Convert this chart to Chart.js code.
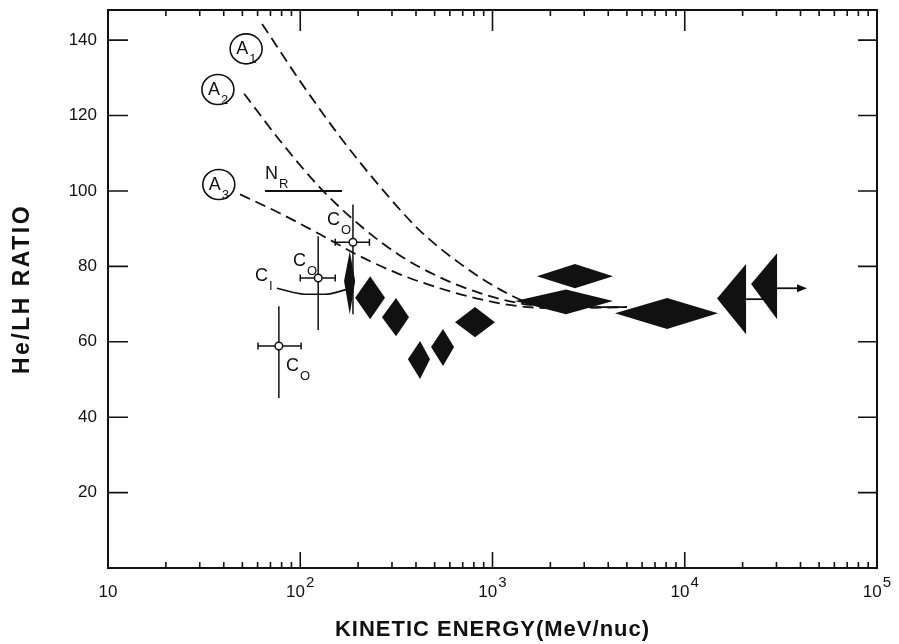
<!DOCTYPE html>
<html>
<head>
<meta charset="utf-8">
<script src="https://cdn.jsdelivr.net/npm/chart.js@4.4.1/dist/chart.umd.min.js"></script>
<style>
  html, body { margin: 0; padding: 0; background: #fff; }
</style>
</head>
<body>
<canvas id="heChart" width="899" height="644"></canvas>
<script>
// axes
const xMin = 10, xMax = 1e5;
const yMin = 0, yMax = 148;
const yTickValues = [20, 40, 60, 80, 100, 120, 140];
const xDecades = [10, 100, 1000, 10000, 100000];
const xExponents = ['', '2', '3', '4', '5'];

// model curves A1, A2, A3 (dashed)
const a1Energy = [63.3, 99.6, 160.8, 259.5, 418.9, 676, 1091, 1568, 2255, 5000];
const a1Ratio  = [144.3, 129.2, 114.4, 101.2, 89.5, 80.8, 73.9, 70.2, 69.2, 69.2];
const a2Energy = [51.1, 78.3, 126.6, 204.3, 329.8, 532, 860, 1388, 2255, 5000];
const a2Ratio  = [125.8, 113.4, 100.9, 90.9, 82.9, 77.1, 72.9, 70.2, 69.2, 69.2];
const a3Energy = [48.6, 78.3, 126.6, 204.3, 329.8, 532, 860, 1388, 2255, 5000];
const a3Ratio  = [99.1, 94.1, 88.5, 82.7, 77.9, 74.2, 71.3, 69.4, 68.9, 69.2];

// N_R line and C_I curve
const nrEnergy = [65.6, 165];
const nrRatio  = [100, 100];
const ciEnergy = [75.7, 90, 108, 135, 175];
const ciRatio  = [74.2, 73.2, 72.6, 72.6, 73.9];

// C_O points with error bars
const coEnergy   = [77.4, 124, 188];
const coRatio    = [58.9, 76.9, 86.4];
const coEnergyLo = [60.3, 100, 152];
const coEnergyHi = [101, 152, 229];
const coRatioLo  = [45.1, 63.1, 67.3];
const coRatioHi  = [69.4, 88.0, 96.4];

// measurements (filled diamonds)
const dmEnergy   = [181, 231, 315, 420, 553, 811, 2685, 2412, 8090];
const dmEnergyLo = [169, 193, 266, 363, 479, 638, 1702, 1309, 4335];
const dmEnergyHi = [193, 276, 368, 473, 631, 1030, 4236, 4236, 14900];
const dmRatio    = [76.1, 71.7, 66.5, 55.4, 58.6, 65.2, 77.4, 70.8, 67.6];
const dmRatioLo  = [67.3, 66.0, 61.5, 50.1, 53.6, 61.2, 74.2, 67.3, 63.4];
const dmRatioHi  = [84.0, 77.4, 71.6, 60.2, 63.4, 69.2, 80.6, 73.9, 71.6];

// lower limits in energy (half diamonds with arrows)
const limEnergy      = [14720, 22130];
const limEnergyEdge  = [20840, 30200];
const limArrowEnergy = [29450, 43250];
const limRatio       = [71.5, 75.3];
const limRatioLo     = [62.0, 66.0];
const limRatioHi     = [80.6, 83.5];
const limArrowRatio  = [71.3, 74.2];

// curve labels
const circleNotes = [
  { e: 52.3, r: 137.7, main: 'A', sub: '1' },
  { e: 37.3, r: 126.9, main: 'A', sub: '2' },
  { e: 37.7, r: 101.7, main: 'A', sub: '3' }
];
const textNotes = [
  { e: 65.6, r: 103.3, main: 'N', sub: 'R' },
  { e: 137.7, r: 91.1, main: 'C', sub: 'O' },
  { e: 91.6, r: 80.0, main: 'C', sub: 'O' },
  { e: 58.2, r: 76.1, main: 'C', sub: 'I' },
  { e: 84.3, r: 52.2, main: 'C', sub: 'O' }
];

const ink = '#111';
const family = '"Liberation Sans", Arial, sans-serif';

const pts = (xs, ys) => xs.map((x, i) => ({ x: x, y: ys[i] }));
const toX = (chart, v) => chart.scales.x.getPixelForValue(v);
const toY = (chart, v) => chart.scales.y.getPixelForValue(v);

function dashed(data) {
  return {
    data: data, showLine: true, borderColor: ink, borderWidth: 1.8,
    borderDash: [11, 6], pointRadius: 0, cubicInterpolationMode: 'monotone', fill: false
  };
}

function subLabel(ctx, x, y, main, sub) {
  ctx.font = '18px ' + family;
  ctx.fillText(main, x, y);
  const w = ctx.measureText(main).width;
  ctx.font = '13px ' + family;
  ctx.fillText(sub, x + w + 1, y + 9);
}

const marks = {
  id: 'marks',
  beforeDatasetsDraw(chart) {
    const ctx = chart.ctx;
    ctx.save();
    ctx.strokeStyle = ink;
    ctx.lineWidth = 1.5;
    for (let i = 0; i < coEnergy.length; i++) {
      const x = toX(chart, coEnergy[i]), y = toY(chart, coRatio[i]);
      const x0 = toX(chart, coEnergyLo[i]), x1 = toX(chart, coEnergyHi[i]);
      const y0 = toY(chart, coRatioLo[i]), y1 = toY(chart, coRatioHi[i]);
      ctx.beginPath();
      ctx.moveTo(x, y0); ctx.lineTo(x, y1);
      ctx.moveTo(x0, y); ctx.lineTo(x1, y);
      ctx.moveTo(x0, y - 3.5); ctx.lineTo(x0, y + 3.5);
      ctx.moveTo(x1, y - 3.5); ctx.lineTo(x1, y + 3.5);
      ctx.stroke();
    }
    ctx.restore();
  },
  afterDatasetsDraw(chart) {
    const ctx = chart.ctx;
    const a = chart.chartArea;
    ctx.save();
    ctx.fillStyle = ink;
    ctx.strokeStyle = ink;

    // diamonds
    for (let i = 0; i < dmEnergy.length; i++) {
      const xc = toX(chart, dmEnergy[i]), yc = toY(chart, dmRatio[i]);
      ctx.beginPath();
      ctx.moveTo(toX(chart, dmEnergyLo[i]), yc);
      ctx.lineTo(xc, toY(chart, dmRatioHi[i]));
      ctx.lineTo(toX(chart, dmEnergyHi[i]), yc);
      ctx.lineTo(xc, toY(chart, dmRatioLo[i]));
      ctx.closePath();
      ctx.fill();
    }

    // lower limits
    for (let i = 0; i < limEnergy.length; i++) {
      const xe = toX(chart, limEnergyEdge[i]);
      ctx.beginPath();
      ctx.moveTo(toX(chart, limEnergy[i]), toY(chart, limRatio[i]));
      ctx.lineTo(xe, toY(chart, limRatioHi[i]));
      ctx.lineTo(xe, toY(chart, limRatioLo[i]));
      ctx.closePath();
      ctx.fill();
      const ya = toY(chart, limArrowRatio[i]);
      const xa = toX(chart, limArrowEnergy[i]);
      ctx.lineWidth = 1.8;
      ctx.beginPath();
      ctx.moveTo(xe, ya); ctx.lineTo(xa - 6, ya);
      ctx.stroke();
      ctx.beginPath();
      ctx.moveTo(xa, ya); ctx.lineTo(xa - 10, ya - 4); ctx.lineTo(xa - 10, ya + 4);
      ctx.closePath();
      ctx.fill();
    }

    // labels
    ctx.textBaseline = 'alphabetic';
    ctx.textAlign = 'left';
    ctx.lineWidth = 1.6;
    circleNotes.forEach(n => {
      const cx = toX(chart, n.e), cy = toY(chart, n.r);
      ctx.beginPath();
      ctx.ellipse(cx, cy, 16, 15, 0, 0, Math.PI * 2);
      ctx.stroke();
      subLabel(ctx, cx - 10, cy + 5, n.main, n.sub);
    });
    textNotes.forEach(n => subLabel(ctx, toX(chart, n.e), toY(chart, n.r), n.main, n.sub));

    // frame and inward ticks
    ctx.lineWidth = 2;
    ctx.strokeRect(a.left, a.top, a.right - a.left, a.bottom - a.top);
    ctx.lineWidth = 1.6;
    ctx.beginPath();
    yTickValues.forEach(v => {
      const y = toY(chart, v);
      ctx.moveTo(a.left, y); ctx.lineTo(a.left + 20, y);
      ctx.moveTo(a.right, y); ctx.lineTo(a.right - 19, y);
    });
    for (let d = 10; d < xMax; d *= 10) {
      for (let m = 1; m <= 9; m++) {
        const x = toX(chart, d * m);
        const major = m === 1;
        ctx.moveTo(x, a.bottom); ctx.lineTo(x, a.bottom - (major ? 16 : 6));
        ctx.moveTo(x, a.top); ctx.lineTo(x, a.top + (major ? 21 : 6));
      }
    }
    ctx.stroke();
    ctx.restore();
  },
  afterDraw(chart) {
    const ctx = chart.ctx;
    const a = chart.chartArea;
    ctx.save();
    ctx.fillStyle = ink;
    ctx.textBaseline = 'alphabetic';
    ctx.textAlign = 'left';

    // x tick labels with exponents
    xDecades.forEach((d, i) => {
      const x = toX(chart, d);
      ctx.font = '17px ' + family;
      const wb = ctx.measureText('10').width;
      ctx.font = '15px ' + family;
      const ws = xExponents[i] ? ctx.measureText(xExponents[i]).width + 1 : 0;
      const left = x - (wb + ws) / 2;
      ctx.font = '17px ' + family;
      ctx.fillText('10', left, 597);
      if (xExponents[i]) {
        ctx.font = '15px ' + family;
        ctx.fillText(xExponents[i], left + wb + 1, 587);
      }
    });

    // axis titles
    ctx.textAlign = 'center';
    ctx.textBaseline = 'middle';
    ctx.letterSpacing = '1px';
    ctx.font = 'bold 22px ' + family;
    ctx.fillText('KINETIC ENERGY(MeV/nuc)', (a.left + a.right) / 2, 630);
    ctx.translate(23, (a.top + a.bottom) / 2);
    ctx.rotate(-Math.PI / 2);
    ctx.letterSpacing = '2.5px';
    ctx.font = 'bold 23px ' + family;
    ctx.fillText('He/LH RATIO', 0, 0);
    ctx.restore();
  }
};

new Chart(document.getElementById('heChart'), {
  type: 'scatter',
  data: {
    datasets: [
      dashed(pts(a1Energy, a1Ratio)),
      dashed(pts(a2Energy, a2Ratio)),
      dashed(pts(a3Energy, a3Ratio)),
      { data: pts(nrEnergy, nrRatio), showLine: true, borderColor: ink, borderWidth: 2, pointRadius: 0 },
      { data: pts(ciEnergy, ciRatio), showLine: true, borderColor: ink, borderWidth: 1.6, pointRadius: 0,
        cubicInterpolationMode: 'monotone' },
      { data: pts(coEnergy, coRatio), showLine: false, pointRadius: 3.8, pointBorderWidth: 1.5,
        pointBackgroundColor: '#fff', pointBorderColor: ink }
    ]
  },
  options: {
    responsive: false,
    animation: false,
    layout: { padding: { left: 0, right: 22, top: 10, bottom: 0 } },
    plugins: { legend: { display: false }, tooltip: { enabled: false } },
    scales: {
      x: {
        type: 'logarithmic', min: xMin, max: xMax,
        grid: { display: false, drawTicks: false },
        border: { display: false },
        ticks: { display: false },
        afterFit: s => { s.height = 76; s.paddingLeft = 0; s.paddingRight = 0; }
      },
      y: {
        type: 'linear', min: yMin, max: yMax,
        grid: { display: false, drawTicks: false },
        border: { display: false },
        afterBuildTicks: s => { s.ticks = yTickValues.map(v => ({ value: v })); },
        ticks: { color: ink, padding: 11, font: { family: family, size: 17 } },
        afterFit: s => { s.width = 108; s.paddingTop = 0; s.paddingBottom = 0; }
      }
    }
  },
  plugins: [marks]
});
</script>
</body>
</html>
